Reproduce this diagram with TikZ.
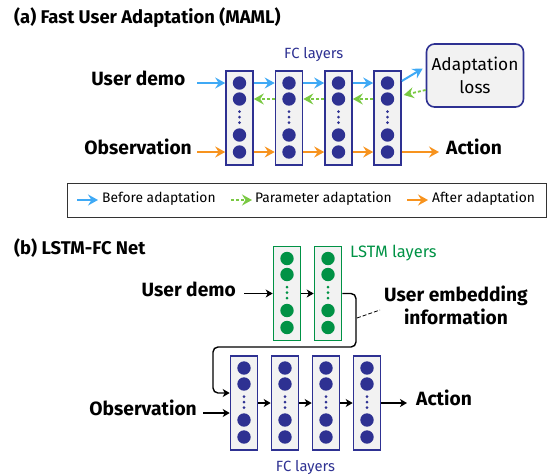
\documentclass[tikz,border=0pt]{standalone}
\usepackage{fontspec}
\setmainfont{Fira Sans}
\usetikzlibrary{arrows.meta,calc}
\definecolor{fcblue}{HTML}{2E3192}
\definecolor{skyblue}{HTML}{3FA9F5}
\definecolor{paramgreen}{HTML}{7AC943}
\definecolor{orangeA}{HTML}{F7931E}
\definecolor{lstmgreen}{HTML}{009245}
\definecolor{boxgray}{HTML}{F2F2F2}
\newcommand{\neurons}[2]{%
  \foreach \dy in {-35,-19,17,34}{\fill[#2] ($(#1.center)+(0,\dy)$) circle (6.7pt);}
  \foreach \dy in {-6.5,-1,4.5}{\fill[#2] ($(#1.center)+(0,\dy)$) circle (1.5pt);}
}
\tikzset{
  layerbox/.style={draw=#1, fill=boxgray, line width=1.6pt, minimum width=27pt, minimum height=94pt, inner sep=0pt},
  lbl/.style={inner sep=0pt, font=\bfseries\fontsize{19.2}{23}\selectfont},
  ttl/.style={inner sep=0pt, font=\bfseries\fontsize{18.4}{22}\selectfont},
  lgd/.style={inner sep=0pt, font=\fontsize{13.8}{16}\selectfont},
  small/.style={inner sep=0pt, font=\fontsize{14.8}{17}\selectfont},
  colarrow/.style={line width=2pt, -{Stealth[length=10pt,width=11pt,inset=3.5pt]}},
  bluearrow/.style={colarrow, draw=skyblue, fill=skyblue},
  orangearrow/.style={colarrow, draw=orangeA, fill=orangeA},
  greenarrow/.style={line width=1.8pt, draw=paramgreen, dash pattern=on 3pt off 2pt, -{Stealth[length=10pt,width=11pt,inset=3.5pt,fill=paramgreen]}},
  blackarrow/.style={line width=1.4pt, -{Stealth[length=7pt,width=8pt,inset=2pt]}},
}
\begin{document}
\begin{tikzpicture}[x=1pt,y=-1pt]
\useasboundingbox (0,0) rectangle (549,475);
% ---------------- (a) ----------------
\node[ttl, anchor=mid west] (titleA) at (14,21) {(a) Fast User Adaptation (MAML)};
\foreach \n/\x in {a1/239.5,a2/289,a3/338.5,a4/387.5}{
  \node[layerbox=fcblue] (\n) at (\x,118) {};
  \neurons{\n}{fcblue}
}
\node[small, text=fcblue] (fcA) at (313.75,55) {FC layers};
\node[draw=fcblue, fill=boxgray, rounded corners=8pt, line width=1.6pt, minimum width=97pt, minimum height=63pt, inner sep=0pt, align=center, font=\fontsize{17.3}{23}\selectfont] (loss) at (475,75.5) {Adaptation\\loss};
\node[lbl, anchor=mid east] (udA) at (185.6,83) {User demo};
\node[lbl, anchor=mid east] (obsA) at (192,152) {Observation};
\node[lbl, anchor=mid west] (actA) at (446,152) {Action};
% blue
\draw[bluearrow] ($(a1.west)+(-28,-35)$) -- ($(a1.west)+(0,-35)$);
\draw[bluearrow] ($(a1.east)+(0,-35)$) -- ($(a2.west)+(0,-35)$);
\draw[bluearrow] ($(a2.east)+(0,-35)$) -- ($(a3.west)+(0,-35)$);
\draw[bluearrow] ($(a3.east)+(0,-35)$) -- ($(a4.west)+(0,-35)$);
\draw[bluearrow] ($(a4.east)+(0,-37)$) -- ($(loss.west)+(-3,-7)$);
% green
\draw[greenarrow] ($(loss.west)+(0,14.5)$) -- ($(a4.east)+(2,-23)$);
\draw[greenarrow] ($(a4.west)+(0,-19)$) -- ($(a3.east)+(0,-19)$);
\draw[greenarrow] ($(a3.west)+(0,-19)$) -- ($(a2.east)+(0,-19)$);
\draw[greenarrow] ($(a2.west)+(0,-19)$) -- ($(a1.east)+(0,-19)$);
% orange
\draw[orangearrow] ($(a1.west)+(-28,34)$) -- ($(a1.west)+(0,34)$);
\draw[orangearrow] ($(a1.east)+(0,34)$) -- ($(a2.west)+(0,34)$);
\draw[orangearrow] ($(a2.east)+(0,34)$) -- ($(a3.west)+(0,34)$);
\draw[orangearrow] ($(a3.east)+(0,34)$) -- ($(a4.west)+(0,34)$);
\draw[orangearrow] ($(a4.east)+(0,34)$) -- ($(actA.mid west)+(-7,0)$);
% legend
\node[draw=black!80, line width=1pt, minimum width=479pt, minimum height=34pt, inner sep=0pt] (legend) at (306.5,200) {};
\coordinate (lb1) at (77,200); \coordinate (lb2) at (98,200);
\coordinate (lg1) at (231,200); \coordinate (lg2) at (252,200);
\coordinate (lo1) at (407,200); \coordinate (lo2) at (428,200);
\draw[bluearrow] (lb1) -- (lb2);
\draw[greenarrow] (lg1) -- (lg2);
\draw[orangearrow] (lo1) -- (lo2);
\node[lgd, anchor=mid west] (tb) at (102,200) {Before adaptation};
\node[lgd, anchor=mid west] (tg) at (255,200) {Parameter adaptation};
\node[lgd, anchor=mid west] (to) at (432,200) {After adaptation};
% ---------------- (b) ----------------
\node[ttl, anchor=mid west] (titleB) at (14,251.5) {(b) LSTM-FC Net};
\foreach \n/\x in {l1/287,l2/328}{
  \node[layerbox=lstmgreen] (\n) at (\x,293.5) {};
  \neurons{\n}{lstmgreen}
}
\node[inner sep=0pt, font=\fontsize{16.5}{19}\selectfont, text=lstmgreen, anchor=mid west] (lstmlbl) at (350,255) {LSTM layers};
\foreach \n/\x in {f1/244,f2/285,f3/326,f4/367}{
  \node[layerbox=fcblue] (\n) at (\x,403) {};
  \neurons{\n}{fcblue}
}
\node[small, text=fcblue] (fcB) at (305.5,468) {FC layers};
\node[lbl, anchor=mid east] (udB) at (236,293.5) {User demo};
\node[lbl, anchor=mid east] (obsB) at (197,413) {Observation};
\node[lbl, anchor=mid west] (actB) at (416,403) {Action};
\node[lbl, align=center] (emb) at (456,305.5) {User embedding\\information};
\draw[blackarrow] ($(udB.mid east)+(8,0)$) -- (l1.west);
\draw[blackarrow] (l1.east) -- (l2.west);
\coordinate (loopR) at (356,347);
\coordinate (loopL) at (213,347);
\draw[blackarrow, rounded corners=5pt] (l2.east) -| (loopR) -- (loopL) |- ($(f1.west)+(0,-10)$);
\draw[blackarrow] ($(obsB.mid east)+(6,0)$) -- ($(f1.west)+(0,10)$);
\draw[blackarrow] (f1.east) -- (f2.west);
\draw[blackarrow] (f2.east) -- (f3.west);
\draw[blackarrow] (f3.east) -- (f4.west);
\draw[blackarrow] (f4.east) -- ($(actB.mid west)+(-9,0)$);
\coordinate (dashS) at (357,318);
\coordinate (dashE) at (380,310);
\draw[dashed, line width=0.8pt, dash pattern=on 4pt off 2pt] (dashS) -- (dashE);
\end{tikzpicture}
\end{document}
